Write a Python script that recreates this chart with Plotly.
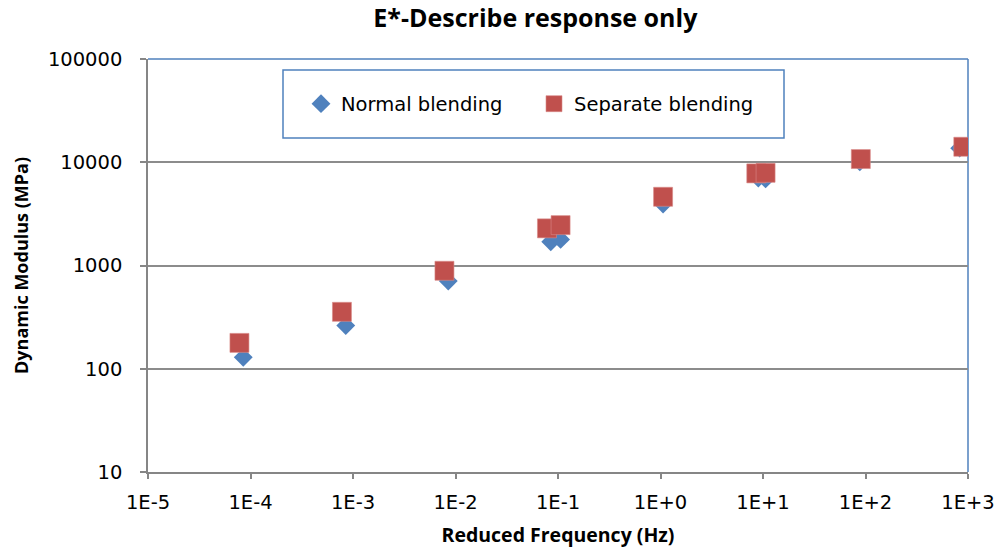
import plotly.graph_objects as go

# Reduced frequency (Hz) and dynamic modulus (MPa) for each blending method
normal_freq = [8.5e-5, 8.5e-4, 8.5e-3, 8.5e-2, 1.06e-1, 1.06, 9.0, 1.06e1, 8.8e1, 8.3e2]
normal_modulus = [129, 262, 706, 1700, 1790, 3940, 7030, 6900, 10100, 13700]

separate_freq = [7.8e-5, 7.8e-4, 7.8e-3, 7.8e-2, 1.06e-1, 1.06, 8.6, 1.06e1, 9.0e1, 9.0e2]
separate_modulus = [178, 356, 889, 2290, 2460, 4630, 7800, 7900, 10740, 14130]

x_tickvals = [1e-5, 1e-4, 1e-3, 1e-2, 1e-1, 1e0, 1e1, 1e2, 1e3]
x_ticktext = ["1E-5", "1E-4", "1E-3", "1E-2", "1E-1", "1E+0", "1E+1", "1E+2", "1E+3"]
y_tickvals = [10, 100, 1000, 10000, 100000]
y_ticktext = ["10", "100", "1000", "10000", "100000"]

TITLE_FONT = "Open Sans"
TEXT_FONT = "DejaVu Sans"
BLUE = "#4F81BD"
RED = "#C0504D"
AXIS_GRAY = "#868686"

fig = go.Figure()
fig.add_trace(go.Scatter(
    x=normal_freq, y=normal_modulus, mode="markers", name="Normal blending",
    marker=dict(symbol="diamond", size=14.5, color=BLUE,
                line=dict(width=0)),
))
fig.add_trace(go.Scatter(
    x=separate_freq, y=separate_modulus, mode="markers", name="Separate blending",
    marker=dict(symbol="square", size=19, color=RED,
                line=dict(width=0.6, color="#D98A88")),
))

fig.update_layout(
    width=997, height=548,
    margin=dict(l=148, r=29, t=59, b=76),
    paper_bgcolor="white", plot_bgcolor="white",
    font=dict(family=TEXT_FONT, color="#000000"),
    title=dict(text="<b>E*-Describe response only</b>",
               x=0.537, xanchor="center", xref="container",
               y=1 - 18 / 548, yanchor="middle", yref="container",
               font=dict(family=TITLE_FONT, size=25, color="#000000")),
    showlegend=True,
    legend=dict(orientation="h", x=(301 - 148) / 820, xanchor="left",
                y=(472 - 104) / 413, yanchor="middle",
                bgcolor="rgba(0,0,0,0)", borderwidth=0,
                entrywidth=188, entrywidthmode="pixels",
                font=dict(family=TEXT_FONT, size=19.5, color="#000000")),
    xaxis=dict(
        type="log", range=[-5, 3], automargin=False,
        tickvals=x_tickvals, ticktext=x_ticktext,
        showgrid=False, zeroline=False,
        showline=True, linecolor=AXIS_GRAY, linewidth=1.5,
        ticks="outside", ticklen=5, tickcolor=AXIS_GRAY, tickwidth=1.5,
        ticklabelstandoff=7,
        tickfont=dict(family=TEXT_FONT, size=19.5, color="#000000"),
        title=dict(text="<b>Reduced Frequency (Hz)</b>", standoff=16,
                   font=dict(family=TITLE_FONT, size=19.5, color="#000000")),
    ),
    yaxis=dict(
        type="log", range=[1, 5], automargin=False,
        tickvals=y_tickvals, ticktext=y_ticktext,
        showgrid=True, gridcolor="#8C8C8C", gridwidth=1.5,
        zeroline=False,
        showline=True, linecolor=AXIS_GRAY, linewidth=1.5,
        ticks="outside", ticklen=6, tickcolor=AXIS_GRAY, tickwidth=1.5,
        ticklabelstandoff=14,
        tickfont=dict(family=TEXT_FONT, size=19.5, color="#000000"),
        title=dict(text="<b>Dynamic Modulus (MPa)</b>", standoff=15,
                   font=dict(family=TITLE_FONT, size=18, color="#000000")),
    ),
    shapes=[
        # plot-area frame on the top and right sides
        dict(type="line", xref="paper", yref="paper", x0=0, x1=1, y0=1, y1=1,
             line=dict(color=BLUE, width=1.5), layer="between"),
        dict(type="line", xref="paper", yref="paper", x0=1, x1=1, y0=0, y1=1,
             line=dict(color=BLUE, width=1.5), layer="between"),
        # legend box
        dict(type="rect", xref="paper", yref="paper",
             x0=(283 - 148) / 820, x1=(784 - 148) / 820,
             y0=(472 - 138) / 413, y1=(472 - 70) / 413,
             line=dict(color=BLUE, width=1.5), fillcolor="white", layer="between"),
    ],
)

fig.write_html("out.html")
